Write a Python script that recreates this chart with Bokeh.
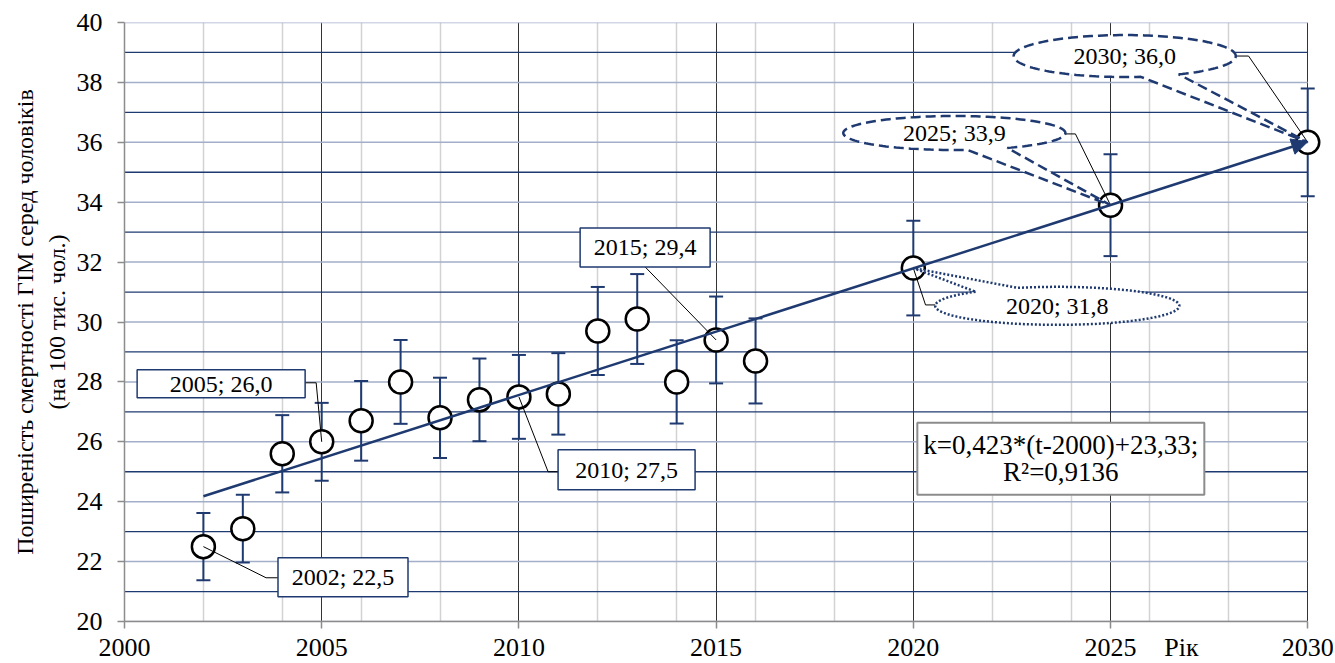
import numpy as np
from bokeh.plotting import figure
from bokeh.models import (ColumnDataSource, FixedTicker, Grid, Label, Arrow,
                          NormalHead, Range1d)
from bokeh.embed import file_html
from bokeh.resources import INLINE

# ---------------- data ----------------
years = [2002, 2003, 2004, 2005, 2006, 2007, 2008, 2009, 2010, 2011,
         2012, 2013, 2014, 2015, 2016, 2020, 2025, 2030]
values = [22.5, 23.1, 25.6, 26.0, 26.7, 28.0, 26.8, 27.4, 27.5, 27.6,
          29.7, 30.1, 28.0, 29.4, 28.7, 31.8, 33.9, 36.0]
errors = [1.12, 1.13, 1.29, 1.3, 1.33, 1.4, 1.34, 1.38, 1.4, 1.36,
          1.47, 1.5, 1.39, 1.45, 1.42, 1.58, 1.7, 1.8]
trend_years = [2002, 2030]
trend_values = [24.18, 36.02]
x_ticks = [2000, 2005, 2010, 2015, 2020, 2025, 2030]
y_ticks = [20, 22, 24, 26, 28, 30, 32, 34, 36, 38, 40]
equation_text = "k=0,423*(t-2000)+23,33;\nR\u00b2=0,9136"
y_label = "Поширеність смертності ГІМ серед чоловіків\n(на 100 тис. чол.)"
x_label = "Рік"
x_label_pos = 2026.8

NAVY = "#1F3A70"
FONT = "Liberation Serif"
X0, X1, Y0, Y1 = 2000, 2030, 20, 40

def lab(i):
    return f"{years[i]}; {values[i]:.1f}".replace(".", ",")

idx = {y: i for i, y in enumerate(years)}

src = ColumnDataSource(dict(
    x=years, y=values,
    lo=[v - e for v, e in zip(values, errors)],
    hi=[v + e for v, e in zip(values, errors)],
))

p = figure(frame_width=1199, frame_height=599,
           x_range=Range1d(X0, X1 + 0.4), y_range=Range1d(Y0, Y1),
           output_backend="svg", toolbar_location=None,
           min_border_left=124, min_border_top=22, min_border_right=10,
           min_border_bottom=38)
p.outline_line_color = None
p.background_fill_color = "white"
p.xgrid.grid_line_color = None
p.ygrid.grid_line_color = None

# grids
p.add_layout(Grid(dimension=0, ticker=FixedTicker(ticks=[t for t in range(X0 + 2, X1, 2) if t % 5 != 0]),
                  grid_line_color="#D2D2D2", grid_line_width=1.5), "center")
even = list(range(Y0, Y1 + 1, 2))
odd = list(range(Y0 + 1, Y1, 2))
p.segment(x0=[X0] * len(even), x1=[X1] * len(even), y0=even, y1=even,
          line_color="#A3AFC9", line_width=1.5)
p.segment(x0=[X0] * len(odd), x1=[X1] * len(odd), y0=odd, y1=odd,
          line_color=NAVY, line_width=1.3)
p.add_layout(Grid(dimension=0, ticker=FixedTicker(ticks=list(range(X0 + 5, X1 + 1, 5))),
                  grid_line_color="#333333", grid_line_width=1), "center")

# axes
for ax in (p.xaxis[0], p.yaxis[0]):
    ax.axis_line_color = "#8C8C8C"
    ax.axis_line_width = 1.5
    ax.major_tick_line_color = "#8C8C8C"
    ax.major_tick_line_width = 1.5
    ax.minor_tick_line_color = "#8C8C8C"
    ax.minor_tick_line_width = 1.5
    ax.major_label_text_font = FONT
    ax.major_label_text_font_size = "26px"
    ax.major_label_text_color = "black"
p.xaxis.bounds = (X0, X1)
p.xaxis.ticker = FixedTicker(ticks=x_ticks + [x_label_pos], minor_ticks=x_ticks)
p.xaxis.major_label_overrides = {x_label_pos: x_label}
p.xaxis.major_tick_out = 0
p.xaxis.major_tick_in = 0
p.xaxis.minor_tick_out = 7
p.xaxis.minor_tick_in = 0
p.xaxis.major_label_standoff = 4

p.yaxis.ticker = FixedTicker(ticks=y_ticks)
p.yaxis.major_tick_out = 7
p.yaxis.major_tick_in = 0
p.yaxis.minor_tick_out = 0
p.yaxis.minor_tick_in = 0
p.yaxis.major_label_standoff = 15
p.yaxis.axis_label = y_label
p.yaxis.axis_label_text_font = FONT
p.yaxis.axis_label_text_font_size = "24px"
p.yaxis.axis_label_text_font_style = "normal"
p.yaxis.axis_label_text_color = "black"
p.yaxis.axis_label_standoff = 4

# error bars
p.segment(x0="x", y0="lo", x1="x", y1="hi", source=src, line_color=NAVY, line_width=2)
p.scatter(x="x", y="hi", source=src, marker="dash", size=14, line_color=NAVY, line_width=2)
p.scatter(x="x", y="lo", source=src, marker="dash", size=14, line_color=NAVY, line_width=2)

# markers
p.scatter(x="x", y="y", source=src, marker="circle", size=23,
          fill_color="white", line_color="black", line_width=2.5)

# trend line with arrow
p.add_layout(Arrow(end=NormalHead(size=16, fill_color=NAVY, line_color=NAVY, line_width=1),
                   x_start=trend_years[0], y_start=trend_values[0],
                   x_end=trend_years[1], y_end=trend_values[1],
                   line_color=NAVY, line_width=2.5))

# ---- leader lines ----
def pt(yr):
    return years[idx[yr]], values[idx[yr]]

leaders_x, leaders_y = [], []
def leader(path):
    leaders_x.append([q[0] for q in path])
    leaders_y.append([q[1] for q in path])

leader([(2004.58, 27.97), (2004.86, 27.97), pt(2005)])
leader([pt(2002), (2003.59, 21.46), (2003.89, 21.46)])
leader([pt(2010), (2010.74, 25.0), (2011.0, 25.0)])
leader([(2013.20, 31.84), pt(2015)])
leader([(2028.17, 38.88), (2028.5, 38.88), pt(2030)])
leader([(2023.86, 36.28), (2024.11, 36.28), pt(2025)])
leader([pt(2020), (2020.31, 30.57), (2020.56, 30.57)])
p.multi_line(xs=leaders_x, ys=leaders_y, line_color="black", line_width=1)

# ---- rectangular callouts ----
boxes = [  # (year, cx, cy, w_px, h_px)
    (2005, 2002.45, 27.94, 168, 28),
    (2002, 2005.54, 21.48, 130, 39),
    (2010, 2012.73, 25.07, 137, 40),
    (2015, 2013.20, 32.49, 130, 39),
]
p.rect(x=[b[1] for b in boxes], y=[b[2] for b in boxes],
       width=[b[3] for b in boxes], height=[b[4] for b in boxes],
       width_units="screen", height_units="screen",
       fill_color="white", line_color=NAVY, line_width=1.5)
for b in boxes:
    p.add_layout(Label(x=b[1], y=b[2], text=lab(idx[b[0]]), text_font=FONT,
                       text_font_size="24px", text_align="center",
                       text_baseline="middle", text_color="black"))

# equation box
p.rect(x=[2023.74], y=[25.43], width=[287], height=[72],
       width_units="screen", height_units="screen",
       fill_color="white", line_color="#8C8C8C", line_width=2)
p.add_layout(Label(x=2023.74, y=25.43, text=equation_text, text_font=FONT,
                   text_font_size="27px", text_align="center",
                   text_baseline="middle", text_color="black",
                   text_line_height=0.9))

# ---- elliptical callouts ----
def ell_callout(cx, cy, a, b, g0, g1, tip):
    ts = np.radians(np.linspace(g1, g0 + 360, 160))
    xs = list(cx + a * np.cos(ts)) + [tip[0]]
    ys = list(cy + b * np.sin(ts)) + [tip[1]]
    return xs, ys

ells = [  # (year, cx, cy, a, b, gap0, gap1, dash)
    (2030, 2025.36, 38.88, 2.816, 0.70, -81.7, -60.9, "10 5"),
    (2025, 2021.04, 36.31, 2.816, 0.567, -83.3, -61.5, "10 5"),
    (2020, 2023.65, 30.54, 3.095, 0.634, 109, 132, "2 2"),
]
for e in ells:
    xs, ys = ell_callout(e[1], e[2], e[3], e[4], e[5], e[6], pt(e[0]))
    p.patch(xs, ys, fill_color="white", line_color=NAVY, line_width=2.5, line_dash=e[7])
    p.add_layout(Label(x=e[1], y=e[2], text=lab(idx[e[0]]), text_font=FONT,
                       text_font_size="24px", text_align="center",
                       text_baseline="middle", text_color="black"))

open("out.html", "w").write(file_html(p, INLINE))
